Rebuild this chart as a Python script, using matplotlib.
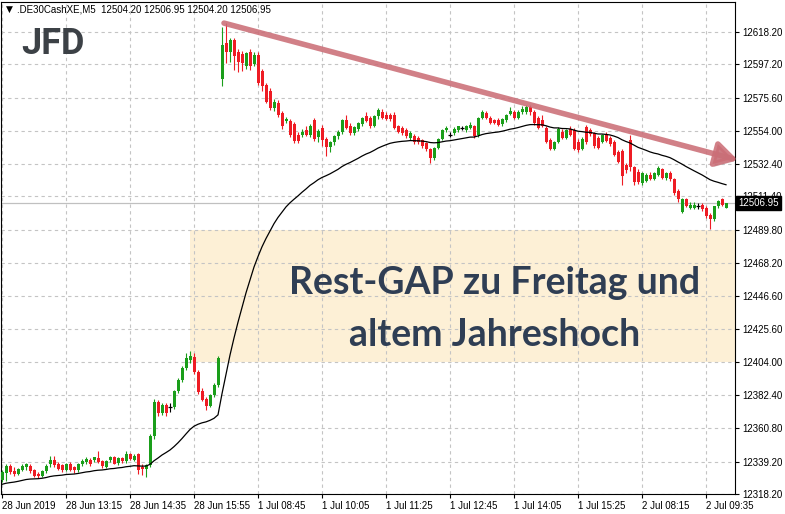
import numpy as np
import pandas as pd
import matplotlib
matplotlib.use('Agg')
import matplotlib.pyplot as plt
import matplotlib.transforms as mtransforms
import matplotlib.patheffects as pe
from matplotlib.patches import Rectangle

# M5 candles, 28 Jun 2019 11:55 .. 2 Jul 2019 10:00 (bar index = position on axis)
symbol = '.DE30CashXE,M5'
last_ohlc = [12504.20, 12506.95, 12504.20, 12506.95]

opens = [
    12327.5, 12332.0, 12336.5, 12333.0, 12331.5, 12334.0, 12335.5, 12336.5, 12333.5, 12331.5,
    12330.0, 12333.0, 12337.5, 12340.0, 12337.5, 12337.0, 12334.0, 12337.5, 12335.5, 12333.5,
    12337.5, 12339.0, 12340.5, 12340.0, 12341.5, 12339.5, 12336.0, 12340.0, 12342.0, 12338.5,
    12341.5, 12339.5, 12344.0, 12340.5, 12344.0, 12336.0, 12334.5, 12337.0, 12356.0, 12378.0,
    12371.0, 12376.0, 12374.5, 12374.5, 12385.0, 12392.5, 12400.0, 12405.0, 12407.0, 12397.5,
    12385.0, 12380.0, 12375.5, 12382.5, 12389.0, 12588.0, 12611.0, 12605.5, 12613.0, 12605.5,
    12604.0, 12596.0, 12605.5, 12597.5, 12603.5, 12593.0, 12583.5, 12580.0, 12569.0, 12572.0,
    12565.5, 12560.5, 12560.5, 12558.5, 12551.5, 12551.5, 12554.5, 12551.5, 12561.0, 12550.0,
    12556.0, 12548.5, 12543.5, 12546.5, 12550.5, 12553.5, 12561.0, 12557.0, 12552.5, 12555.0,
    12558.5, 12563.5, 12562.5, 12557.5, 12563.5, 12566.5, 12564.5, 12564.0, 12564.5, 12557.0,
    12556.0, 12554.5, 12549.5, 12551.0, 12549.5, 12548.0, 12546.0, 12542.0, 12536.5, 12543.0,
    12549.0, 12554.5, 12551.5, 12552.5, 12554.5, 12556.0, 12554.5, 12556.0, 12557.0, 12551.5,
    12562.5, 12565.5, 12562.5, 12561.0, 12561.0, 12558.5, 12561.0, 12565.0, 12566.5, 12562.5,
    12566.0, 12566.0, 12569.5, 12566.0, 12562.5, 12561.0, 12556.0, 12548.0, 12542.5, 12547.0,
    12553.5, 12549.5, 12555.5, 12554.5, 12547.0, 12542.5, 12556.5, 12554.5, 12552.5, 12549.5,
    12547.0, 12551.5, 12549.5, 12547.0, 12540.5, 12541.0, 12532.0, 12548.0, 12530.5, 12527.5,
    12520.0, 12521.5, 12525.5, 12523.0, 12525.5, 12529.0, 12523.5, 12526.5, 12522.5, 12515.0,
    12501.5, 12509.5, 12504.0, 12504.0, 12505.0, 12506.0, 12504.0, 12499.5, 12496.5, 12505.0,
    12509.5, 12504.2]
highs = [
    12334.0, 12337.5, 12337.5, 12336.0, 12335.0, 12337.5, 12338.5, 12337.5, 12334.5, 12332.5,
    12334.0, 12337.5, 12343.0, 12343.0, 12339.0, 12338.0, 12338.5, 12339.0, 12336.5, 12338.5,
    12341.0, 12342.5, 12341.5, 12342.5, 12346.0, 12340.5, 12340.5, 12343.0, 12343.0, 12342.0,
    12342.5, 12346.0, 12345.0, 12344.5, 12345.0, 12338.0, 12338.0, 12357.0, 12380.0, 12379.0,
    12377.0, 12377.0, 12377.5, 12386.0, 12393.5, 12401.0, 12409.5, 12411.0, 12410.0, 12399.0,
    12387.0, 12381.5, 12383.0, 12390.0, 12408.0, 12621.5, 12624.0, 12614.0, 12614.5, 12607.0,
    12606.0, 12605.5, 12607.0, 12605.0, 12605.0, 12594.5, 12585.0, 12582.0, 12574.5, 12574.0,
    12567.0, 12563.0, 12562.0, 12560.0, 12553.0, 12555.0, 12557.0, 12558.5, 12562.5, 12555.0,
    12558.0, 12550.0, 12547.5, 12551.5, 12554.5, 12562.0, 12564.5, 12559.0, 12557.5, 12560.0,
    12563.0, 12566.0, 12563.5, 12564.5, 12568.7, 12568.0, 12566.0, 12565.5, 12566.0, 12558.0,
    12557.0, 12556.0, 12554.0, 12552.0, 12551.0, 12549.0, 12547.0, 12543.0, 12543.5, 12549.5,
    12555.0, 12557.0, 12553.0, 12556.5, 12557.5, 12557.5, 12558.0, 12559.5, 12558.0, 12563.0,
    12567.5, 12567.0, 12563.5, 12562.0, 12562.5, 12562.5, 12565.0, 12569.5, 12567.5, 12567.5,
    12570.0, 12571.0, 12571.0, 12567.5, 12563.5, 12564.0, 12557.0, 12549.5, 12547.5, 12556.5,
    12555.0, 12555.5, 12557.0, 12556.0, 12548.5, 12550.0, 12558.0, 12556.0, 12553.5, 12551.0,
    12552.0, 12553.0, 12550.5, 12548.0, 12541.5, 12542.0, 12533.0, 12551.5, 12531.5, 12529.0,
    12527.5, 12526.5, 12527.0, 12527.5, 12531.0, 12530.0, 12527.5, 12528.0, 12523.5, 12516.0,
    12510.5, 12510.5, 12507.5, 12507.5, 12507.0, 12507.0, 12505.0, 12500.5, 12505.5, 12509.0,
    12510.5, 12506.95]
lows = [
    12326.0, 12326.5, 12331.5, 12330.0, 12330.5, 12333.0, 12334.0, 12332.0, 12329.0, 12328.5,
    12329.0, 12332.0, 12336.0, 12336.0, 12333.5, 12332.5, 12333.0, 12333.0, 12332.0, 12332.5,
    12336.5, 12338.0, 12336.5, 12339.0, 12338.5, 12335.0, 12335.0, 12339.0, 12337.5, 12337.0,
    12338.5, 12338.5, 12340.5, 12339.5, 12331.0, 12330.5, 12329.5, 12336.0, 12354.0, 12369.0,
    12369.5, 12369.0, 12371.5, 12373.5, 12384.0, 12391.0, 12399.0, 12403.5, 12396.0, 12383.0,
    12378.5, 12372.5, 12374.5, 12381.5, 12388.0, 12583.0, 12598.0, 12599.0, 12593.5, 12592.0,
    12593.0, 12594.0, 12593.5, 12596.0, 12584.0, 12580.0, 12572.0, 12567.5, 12567.0, 12563.0,
    12555.5, 12559.0, 12550.0, 12546.0, 12546.0, 12550.0, 12550.5, 12550.0, 12547.5, 12547.0,
    12544.0, 12537.5, 12540.0, 12545.0, 12549.0, 12552.0, 12555.0, 12551.5, 12551.5, 12554.0,
    12557.5, 12559.5, 12556.0, 12556.5, 12562.0, 12561.5, 12561.0, 12560.5, 12555.0, 12552.5,
    12551.5, 12549.5, 12548.0, 12545.5, 12545.5, 12543.0, 12541.0, 12533.0, 12535.0, 12542.0,
    12548.0, 12553.0, 12550.0, 12551.5, 12553.5, 12554.5, 12553.5, 12555.0, 12549.5, 12550.0,
    12561.5, 12561.5, 12558.5, 12558.5, 12557.0, 12557.5, 12560.0, 12564.0, 12561.5, 12561.5,
    12565.0, 12565.0, 12564.5, 12558.0, 12555.0, 12556.5, 12546.0, 12541.5, 12541.5, 12546.0,
    12548.5, 12548.5, 12550.5, 12541.5, 12540.5, 12541.5, 12545.5, 12550.5, 12543.0, 12542.0,
    12546.0, 12546.5, 12544.5, 12537.5, 12533.0, 12519.0, 12526.5, 12528.0, 12519.0, 12519.5,
    12519.0, 12520.5, 12522.0, 12522.0, 12524.5, 12522.5, 12522.0, 12521.5, 12512.5, 12508.0,
    12500.5, 12504.5, 12503.0, 12503.0, 12503.5, 12502.0, 12497.5, 12490.0, 12495.5, 12504.0,
    12505.5, 12504.2]
closes = [
    12332.5, 12336.5, 12332.5, 12331.5, 12334.5, 12336.5, 12337.5, 12333.0, 12330.0, 12330.0,
    12333.0, 12336.5, 12340.5, 12337.0, 12334.5, 12334.0, 12337.5, 12334.0, 12333.5, 12337.5,
    12339.5, 12341.0, 12337.5, 12342.0, 12339.0, 12336.5, 12339.5, 12342.0, 12338.0, 12341.5,
    12339.5, 12344.0, 12341.0, 12343.0, 12333.5, 12334.5, 12337.0, 12356.0, 12378.0, 12371.0,
    12376.0, 12371.0, 12374.5, 12385.0, 12392.5, 12400.0, 12406.5, 12407.5, 12397.5, 12384.5,
    12379.5, 12375.5, 12382.5, 12389.0, 12406.5, 12610.0, 12605.5, 12613.0, 12602.5, 12599.0,
    12598.0, 12604.5, 12596.0, 12603.5, 12585.0, 12583.0, 12573.0, 12569.0, 12573.0, 12564.5,
    12557.0, 12561.5, 12551.5, 12547.5, 12547.5, 12553.5, 12551.5, 12557.0, 12549.0, 12554.0,
    12548.0, 12543.5, 12546.5, 12551.0, 12553.5, 12561.0, 12556.0, 12552.5, 12556.5, 12559.0,
    12562.5, 12560.5, 12557.0, 12563.5, 12567.5, 12562.5, 12562.0, 12561.5, 12556.0, 12553.5,
    12552.5, 12550.5, 12552.5, 12546.5, 12546.5, 12544.0, 12542.0, 12536.5, 12543.0, 12549.0,
    12554.5, 12556.0, 12551.5, 12555.5, 12557.0, 12556.0, 12557.0, 12558.0, 12550.5, 12562.5,
    12566.5, 12562.5, 12559.0, 12559.0, 12558.0, 12562.0, 12564.5, 12567.0, 12562.5, 12566.5,
    12568.5, 12569.5, 12566.0, 12559.0, 12556.0, 12557.5, 12547.0, 12542.5, 12547.0, 12555.5,
    12549.5, 12554.5, 12551.5, 12542.5, 12541.5, 12549.0, 12546.5, 12552.0, 12544.0, 12543.0,
    12551.5, 12547.5, 12545.5, 12538.5, 12534.0, 12524.5, 12528.5, 12530.5, 12521.0, 12520.5,
    12526.5, 12525.5, 12523.0, 12526.5, 12530.0, 12523.5, 12526.5, 12522.5, 12513.5, 12509.5,
    12509.5, 12505.0, 12506.0, 12506.0, 12505.0, 12503.0, 12498.5, 12496.5, 12505.0, 12508.5,
    12506.0, 12506.95]

# moving average (exponential), seeded with the value at the left edge
ma_seed = 12324.0
ma_span = 34

xtick_pos = [0, 16, 32, 48, 64, 80, 96, 112, 128, 144, 160, 176]
xtick_labels = ['28 Jun 2019', '28 Jun 13:15', '28 Jun 14:35', '28 Jun 15:55',
                '1 Jul 08:45', '1 Jul 10:05', '1 Jul 11:25', '1 Jul 12:45',
                '1 Jul 14:05', '1 Jul 15:25', '2 Jul 08:15', '2 Jul 09:35']
ytick_vals = [12618.20, 12597.20, 12575.60, 12554.00, 12532.40, 12511.40, 12489.80,
              12468.20, 12446.60, 12425.60, 12404.00, 12382.40, 12360.80, 12339.20, 12318.20]

# annotations
gap_low, gap_high, gap_start = 12404.0, 12489.8, 47
trend_start = (55.5, 12624.0)
trend_end = (184.0, 12535.0)
gap_text = 'Rest-GAP zu Freitag und\naltem Jahreshoch'

BULL = '#1a9e1a'
BEAR = '#ee1c24'
small_font = ['Liberation Sans', 'DejaVu Sans']

o = np.array(opens); h = np.array(highs); l = np.array(lows); c = np.array(closes)
x = np.arange(len(c))

fig = plt.figure(figsize=(7.85, 5.14), dpi=100)
ax = fig.add_axes([1/785, 20/514, 734/785, 492/514])
ax.set_xlim(-0.25, 183.25)
ax.set_ylim(12318.8, 12637.7)

# rest gap box
ax.add_patch(Rectangle((gap_start, gap_low), 200, gap_high - gap_low,
                       facecolor='#fdf0d6', edgecolor='none', zorder=0))

ax.grid(True, color='#c4c4c4', linestyle=(0, (3, 3)), linewidth=0.8, zorder=1)
ax.set_axisbelow(True)

# bid line
ax.axhline(c[-1], color='#c0c0c0', linewidth=0.9, zorder=1.5)

# candles
col = np.where(c > o, BULL, np.where(c < o, BEAR, 'black'))
ax.vlines(x, l, h, colors=col, linewidth=0.8, zorder=3)
body = np.abs(c - o)
ax.bar(x, body, bottom=np.minimum(o, c), width=0.75, color=col, linewidth=0, zorder=3)
doji = c == o
ax.hlines(c[doji], x[doji] - 0.4, x[doji] + 0.4, colors='black', linewidth=0.9, zorder=3)

# moving average
ma = pd.Series(np.r_[ma_seed, c]).ewm(span=ma_span, adjust=False).mean().values[1:]
ax.plot(x, ma, color='black', linewidth=0.9, zorder=4)

# trend arrow
ax.annotate('', xy=trend_end, xytext=trend_start, annotation_clip=False, zorder=6,
            arrowprops=dict(arrowstyle='-|>,head_length=1.3,head_width=0.75',
                            color='#cb6e77', alpha=0.88, lw=4.0, shrinkA=0, shrinkB=0,
                            path_effects=[pe.SimplePatchShadow(offset=(1, -2), shadow_rgbFace='#888888', alpha=0.25),
                                          pe.Normal()]))

ax.text(0.672, 0.376, gap_text, transform=ax.transAxes, ha='center', va='center',
        fontsize=27, fontweight='bold', family=['Lato', 'DejaVu Sans'], color='#2f3e54',
        linespacing=1.65, zorder=7)

# axes styling
for s in ax.spines.values():
    s.set_color('black')
    s.set_linewidth(0.8)
ax.yaxis.tick_right()
ax.set_yticks(ytick_vals)
ax.set_yticklabels([f'{v:.2f}' for v in ytick_vals])
ax.set_xticks(xtick_pos)
ax.set_xticklabels(xtick_labels)
ax.tick_params(axis='both', length=3, width=0.8, labelsize=7, pad=2, colors='black')
for lab in ax.get_xticklabels():
    lab.set_ha('left')
    lab.set_family(small_font)
for lab in ax.get_yticklabels():
    lab.set_family(small_font)

# current price tag
tr = mtransforms.blended_transform_factory(ax.transAxes, ax.transData)
ax.text(1.0 + 3/734, c[-1], f'{last_ohlc[3]:.2f}', transform=tr, ha='left', va='center',
        fontsize=7, family=small_font, color='white', zorder=10, clip_on=False,
        bbox=dict(boxstyle='square,pad=0.22', facecolor='black', edgecolor='black'))

# header and logo
fig.text(6/785, 1 - 9/514, '\u25bc', fontsize=6.5, family=['DejaVu Sans'], va='center', ha='left')
fig.text(17/785, 1 - 9/514, symbol + '  ' + ' '.join(f'{v:.2f}' for v in last_ohlc),
         fontsize=7, family=small_font, va='center', ha='left')
fig.text(21/785, 1 - 44/514, 'JFD', fontsize=26, fontweight='bold', family=['Roboto', 'DejaVu Sans'],
         color='#3c4146', va='center', ha='left')

fig.savefig('out.png', dpi=100)
